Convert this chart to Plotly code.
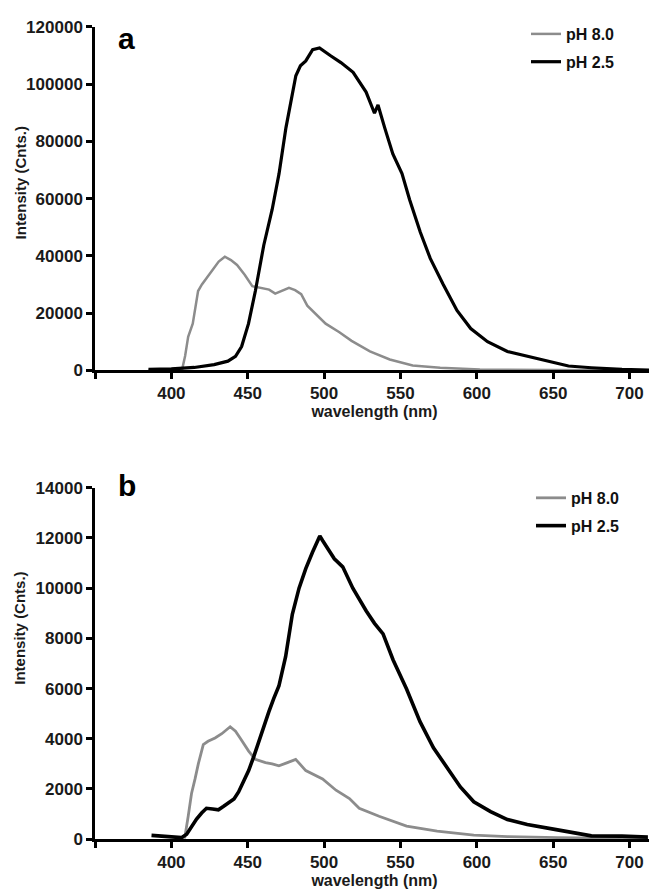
import plotly.graph_objects as go

# ---------------- Panel a data ----------------
gray_a_wl = [385, 400, 407, 409, 411, 414, 417.5, 420, 423, 427.5,
             431, 435, 439, 443, 448, 453, 459, 464, 468, 472,
             477, 481, 485, 489, 495, 501, 510, 518, 530, 543,
             558, 576, 602, 640, 680, 716]
gray_a = [0, 0, 200, 5000, 11700, 16300, 27700, 30000, 32300, 35700,
          38000, 39700, 38500, 36800, 33400, 29400, 28800, 28200, 26800, 27800,
          28800, 28000, 26600, 22600, 19500, 16300, 13300, 10300, 6600, 3800,
          1700, 900, 300, 100, 0, 0]

black_a_wl = [385, 400, 415, 428, 437, 442, 446, 450.5, 455, 460.5,
              466, 470.5, 475, 478, 481.5, 484.5, 488, 492.5, 497, 504.5,
              511, 519, 527.5, 533, 535.3, 539.7, 545, 551, 556, 563,
              569.5, 578, 587, 596, 607, 620, 633, 646, 660, 675,
              695, 716]
black_a = [300, 500, 1000, 2000, 3200, 4900, 8300, 16300, 27700, 43700,
           56200, 68700, 84700, 93800, 102900, 106400, 108100, 112000, 112600, 109800,
           107500, 104100, 97200, 89800, 92700, 84700, 75600, 68700, 59600, 48200,
           39100, 30000, 20900, 14600, 10000, 6600, 4900, 3200, 1500, 900,
           300, 0]

# ---------------- Panel b data ----------------
gray_b_wl = [405, 408.8, 411, 413.2, 415.5, 417.6, 420.9, 424, 428.6, 433,
             438.5, 442, 445, 450.6, 455, 461.6, 466, 470.4, 476, 481.4,
             488, 499, 507.8, 516.6, 523, 536, 554, 574, 598, 620,
             653, 690, 712]
gray_b = [50, 80, 900, 1820, 2400, 2990, 3770, 3900, 4030, 4200,
          4480, 4300, 4030, 3510, 3180, 3050, 3000, 2920, 3050, 3180,
          2730, 2400, 1950, 1620, 1230, 910, 520, 320, 160, 100,
          60, 30, 20]

black_b_wl = [387, 395, 402, 406.6, 410, 413.2, 416.5, 419.8, 423, 427,
              430.8, 434, 437.4, 441, 444, 447, 450.6, 454, 457.2, 460.5,
              463.8, 467, 470.4, 474.8, 479.2, 483.6, 488, 492.4, 495, 497.2,
              499, 501.2, 506.7, 512.2, 518.8, 527.6, 533, 538.6, 545.2, 554,
              562.8, 571.6, 580.4, 589.2, 598, 609, 620, 633, 651, 675,
              695, 712]
black_b = [150, 100, 80, 60, 200, 520, 800, 1040, 1230, 1200,
           1170, 1300, 1430, 1600, 1880, 2250, 2730, 3300, 3900, 4500,
           5070, 5600, 6100, 7270, 8960, 10000, 10780, 11430, 11800, 12080,
           11900, 11690, 11170, 10850, 10000, 9090, 8600, 8180, 7140, 5980,
           4680, 3640, 2860, 2080, 1490, 1100, 780, 580, 390, 130,
           120, 80]

x_tickvals = [350, 400, 450, 500, 550, 600, 650, 700]
x_ticktext = ["", "400", "450", "500", "550", "600", "650", "700"]
ya_tickvals = [0, 20000, 40000, 60000, 80000, 100000, 120000]
yb_tickvals = [0, 2000, 4000, 6000, 8000, 10000, 12000, 14000]
series_names = ["pH 8.0", "pH 2.5"]
x_title = "wavelength (nm)"
y_title = "Intensity (Cnts.)"

GRAY = "#8c8c8c"
BLACK = "#000000"
FONT = "Liberation Sans, Arial, sans-serif"
W, H = 657, 894

fig = go.Figure()
fig.add_trace(go.Scatter(x=gray_a_wl, y=gray_a, mode="lines", name=series_names[0],
                         line=dict(color=GRAY, width=2.5), xaxis="x", yaxis="y",
                         legend="legend", legendgroup="a1"))
fig.add_trace(go.Scatter(x=black_a_wl, y=black_a, mode="lines", name=series_names[1],
                         line=dict(color=BLACK, width=3.2), xaxis="x", yaxis="y",
                         legend="legend", legendgroup="a2"))
fig.add_trace(go.Scatter(x=gray_b_wl, y=gray_b, mode="lines", name=series_names[0],
                         line=dict(color=GRAY, width=2.8), xaxis="x2", yaxis="y2",
                         legend="legend2", legendgroup="b1"))
fig.add_trace(go.Scatter(x=black_b_wl, y=black_b, mode="lines", name=series_names[1],
                         line=dict(color=BLACK, width=3.6), xaxis="x2", yaxis="y2",
                         legend="legend2", legendgroup="b2"))

xdom = [87 / W, 646 / W]
ya_dom = [1 - 361 / H, 1 - 10 / H]
yb_dom = [1 - 840 / H, 1 - 481 / H]

tickfont = dict(family=FONT, size=17, color="#1a1a1a", weight="bold")
titlefont = dict(family=FONT, size=16, color="#1a1a1a", weight="bold")

def xaxis_cfg(anchor):
    return dict(domain=xdom, range=[350, 716], anchor=anchor, showline=True, linewidth=2.5,
                linecolor="black", ticks="outside", ticklen=6, tickwidth=2.5, tickcolor="black",
                tickvals=x_tickvals, ticktext=x_ticktext, showgrid=False, zeroline=False,
                tickfont=tickfont, title=dict(text=x_title, font=titlefont, standoff=0))

def yaxis_cfg(anchor, dom, rng, vals):
    return dict(domain=dom, range=rng, anchor=anchor, showline=True, linewidth=2.5,
                linecolor="black", ticks="outside", ticklen=6, tickwidth=2.5, tickcolor="black",
                tickvals=vals, tickformat="d", showgrid=False, zeroline=False,
                tickfont=tickfont)

legend_common = dict(font=dict(family=FONT, size=16, color="#111", weight="bold"),
                     bgcolor="rgba(0,0,0,0)", tracegroupgap=4, xanchor="left", yanchor="top",
                     itemwidth=30)

def ytitle_ann(ypix):
    return dict(text=y_title, x=12 / W, y=1 - ypix / H, xref="paper", yref="paper",
                showarrow=False, textangle=-90, xanchor="center", yanchor="middle",
                font=dict(family=FONT, size=15, color="#1a1a1a", weight="bold"))

fig.update_layout(
    width=W, height=H,
    margin=dict(l=0, r=0, t=0, b=0),
    paper_bgcolor="white", plot_bgcolor="white",
    xaxis=xaxis_cfg("y"),
    yaxis=yaxis_cfg("x", ya_dom, [0, 120000], ya_tickvals),
    xaxis2=xaxis_cfg("y2"),
    yaxis2=yaxis_cfg("x2", yb_dom, [0, 14000], yb_tickvals),
    legend=dict(x=518 / W, y=1.0, **legend_common),
    legend2=dict(x=523 / W, y=1 - 474 / H, **legend_common),
    annotations=[
        dict(text="a", x=118 / W, y=1 - 22 / H, xref="paper", yref="paper", showarrow=False,
             xanchor="center", yanchor="middle",
             font=dict(family=FONT, size=30, color="black", weight="bold")),
        dict(text="b", x=119 / W, y=1 - 479 / H, xref="paper", yref="paper", showarrow=False,
             xanchor="center", yanchor="middle",
             font=dict(family=FONT, size=30, color="black", weight="bold")),
        ytitle_ann(170),
        ytitle_ann(625),
    ],
)

fig.write_html("out.html")
